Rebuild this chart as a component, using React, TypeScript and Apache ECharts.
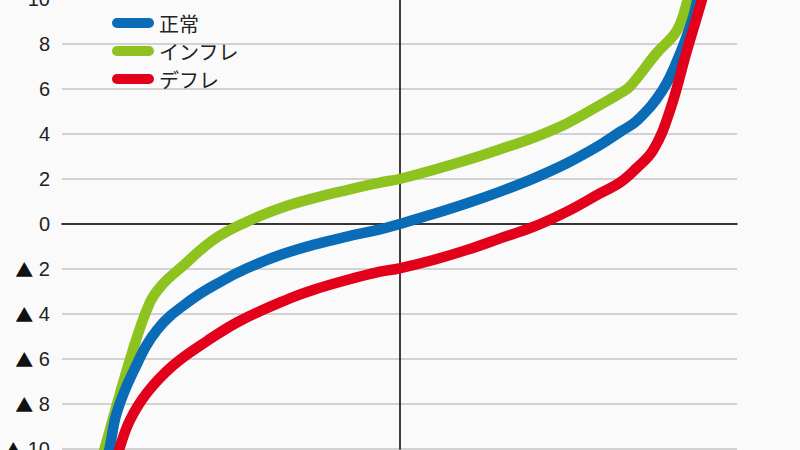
import React, { useEffect, useRef } from "react";
import * as echarts from "echarts";

const seriesNames = ["正常", "インフレ", "デフレ"];
const seriesColors = ["#0a6cb6", "#8dc21f", "#e3001b"];

// x: percentile position (0..100), y: value
const normalX = [6.5, 7.1, 8.1, 10.5, 14.1, 19, 23.9, 27.4, 32.3, 37.2, 42.2, 47.1, 50, 55, 60, 64.9, 69.9, 74.8, 79.7, 82.7, 85.2, 89, 91.6, 93.5, 94.1, 94.5];
const normalY = [-10.6, -9.9, -8.4, -6.6, -4.7, -3.4, -2.5, -1.97, -1.38, -0.93, -0.56, -0.24, 0, 0.44, 0.92, 1.44, 2.03, 2.7, 3.51, 4.1, 4.6, 5.96, 7.6, 9.2, 9.96, 10.6];

const inflX = [5.8, 6.4, 10.1, 13, 15, 17.5, 22.4, 27.4, 32.3, 37.2, 42.2, 47.1, 50, 55, 60, 64.9, 69.9, 74.8, 79.7, 82.7, 84.1, 88.1, 91.1, 92.7, 93.2];
const inflY = [-10.6, -9.9, -6.0, -3.5, -2.65, -1.97, -0.71, 0.1, 0.7, 1.14, 1.51, 1.84, 2.0, 2.4, 2.84, 3.32, 3.84, 4.47, 5.29, 5.81, 6.1, 7.6, 8.6, 9.96, 10.6];

const deflX = [8.1, 8.6, 10.1, 12.6, 16.4, 21.5, 26.4, 33.8, 37.2, 42.2, 47.1, 50, 55, 60, 64.9, 69.9, 74.8, 79.7, 82.7, 85, 87.6, 90.1, 92.6, 94.8, 95.3];
const deflY = [-10.6, -9.9, -8.7, -7.5, -6.3, -5.2, -4.3, -3.3, -2.93, -2.49, -2.12, -1.97, -1.6, -1.15, -0.64, -0.12, 0.55, 1.36, 1.85, 2.45, 3.29, 5.07, 7.73, 9.96, 10.6];

const yMin = -10;
const yMax = 10;
const yStep = 2;

const toPairs = (xs: number[], ys: number[]) => xs.map((x, i) => [x - 50, ys[i]]);

const stadium = "path://M5,0 L37,0 A5,5 0 0 1 37,10 L5,10 A5,5 0 0 1 5,0 Z";

export default function App() {
  const ref = useRef<HTMLDivElement>(null);
  useEffect(() => {
    if (!ref.current) return;
    const chart = echarts.init(ref.current, undefined, { renderer: "svg" });
    const datasets = [toPairs(normalX, normalY), toPairs(inflX, inflY), toPairs(deflX, deflY)];
    const zs = [3, 2, 4];
    chart.setOption({
      animation: false,
      backgroundColor: "#fafafa",
      grid: { left: 62, right: 63, top: -1, bottom: 1, containLabel: false, outerBoundsMode: "none" },
      legend: {
        data: seriesNames,
        orient: "vertical",
        left: 112,
        top: 13,
        padding: 0,
        itemWidth: 42,
        itemHeight: 10,
        itemGap: 8,
        icon: stadium,
        textStyle: {
          fontFamily: "'Noto Sans CJK JP', sans-serif",
          fontSize: 20,
          color: "#222",
          lineHeight: 20,
        },
      },
      xAxis: {
        type: "value",
        min: -50,
        max: 50,
        axisLabel: { show: false },
        axisTick: { show: false },
        splitLine: { show: false },
        axisLine: { show: true, onZero: true, lineStyle: { color: "#000", width: 1.5 } },
      },
      yAxis: {
        type: "value",
        min: yMin,
        max: yMax,
        interval: yStep,
        axisTick: { show: false },
        axisLine: { show: true, onZero: true, lineStyle: { color: "#000", width: 1.5 } },
        splitLine: { show: true, lineStyle: { color: "#c4c4c4", width: 1.5 } },
        axisLabel: {
          margin: 12,
          fontSize: 20,
          color: "#222",
          fontFamily: "'Liberation Sans', 'DejaVu Sans', sans-serif",
          formatter: (v: number) => (v < 0 ? "{tri|▲} " + -v : String(v)),
          rich: {
            tri: {
              fontFamily: "'Noto Sans CJK JP', sans-serif",
              fontSize: 18,
              color: "#111",
            },
          },
        },
      },
      series: seriesNames.map((name, i) => ({
        name,
        type: "line",
        data: datasets[i],
        showSymbol: false,
        symbol: "none",
        smooth: 0.4,
        z: zs[i],
        color: seriesColors[i],
        lineStyle: { width: 10.5, color: seriesColors[i], cap: "round", join: "round" },
      })),
    });
    return () => chart.dispose();
  }, []);
  return (
    <div
      ref={ref}
      style={{ position: "fixed", left: 0, top: 0, width: 800, height: 450, background: "#fafafa" }}
    />
  );
}
